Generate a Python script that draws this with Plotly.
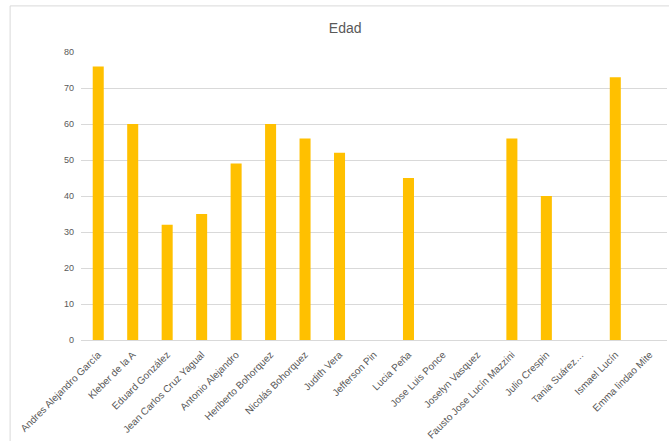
import plotly.graph_objects as go

nombres = ["Andres Alejandro García", "Kleber de la A", "Eduard González", "Jean Carlos Cruz Yagual",
           "Antonio Alejandro", "Heriberto Bohorquez", "Nicolás Bohorquez", "Judith Vera",
           "Jefferson Pin", "Lucia Peña", "Jose Luis Ponce", "Joselyn Vasquez",
           "Fausto Jose Lucín Mazzini", "Julio Crespin", "Tania Suárez…", "Ismael Lucín", "Emma lindao Mite"]
edad = [76, 60, 32, 35, 49, 60, 56, 52, None, 45, None, None, 56, 40, None, 73, None]
y_ticks = [0, 10, 20, 30, 40, 50, 60, 70, 80]

fig = go.Figure(go.Bar(x=nombres, y=edad, marker=dict(color="#FFC000", line=dict(width=0)), width=0.32))

fig.update_layout(
    width=669, height=441,
    margin=dict(l=81, r=2, t=52, b=101, autoexpand=False),
    paper_bgcolor="white", plot_bgcolor="white",
    font=dict(family="Liberation Sans, Arial", color="#595959", size=9),
    title=dict(text="Edad", x=0.516, xref="container", xanchor="center",
               y=0.936, yref="container", yanchor="middle",
               font=dict(size=14, color="#595959")),
    showlegend=False,
    xaxis=dict(tickangle=-45, showgrid=False, showline=True, linecolor="#d9d9d9", automargin=False,
               ticks="", ticklabelstandoff=4, tickfont=dict(size=10, color="#595959")),
    yaxis=dict(range=[0, 80], tickvals=y_ticks, showgrid=True, gridcolor="#d9d9d9", automargin=False,
               zeroline=False, showline=False, ticks="", ticklabelstandoff=6,
               tickfont=dict(size=9, color="#595959")),
    shapes=[dict(type="rect", xref="paper", yref="paper", x0=-0.121, x1=1.2, y0=-0.6, y1=1.16,
                 line=dict(color="#d9d9d9", width=1), fillcolor="rgba(0,0,0,0)", layer="below")],
)

fig.write_html("out.html")
